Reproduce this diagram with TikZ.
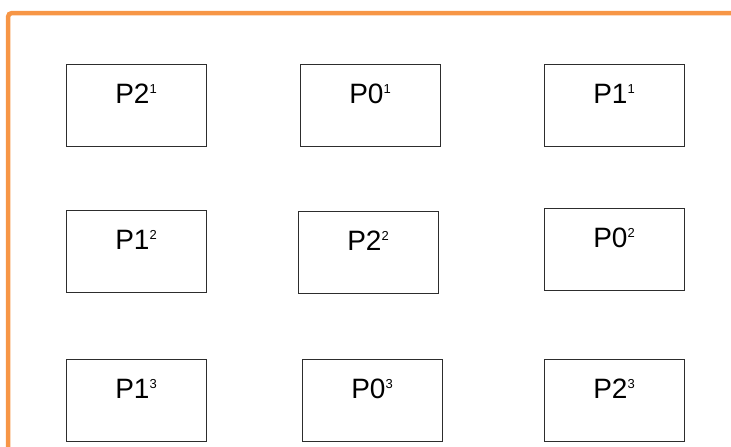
\documentclass[tikz,border=0pt]{standalone}
\usepackage{fontspec}
\setmainfont{Liberation Sans}
\usepackage{tikz}
\usetikzlibrary{positioning}
\definecolor{FrameOrange}{RGB}{247,150,70}
\definecolor{BoxGray}{RGB}{45,45,45}
\newcommand{\pp}[2]{P#1\raisebox{9.6pt}{\fontsize{13}{13}\selectfont #2}}
\tikzset{
  proc/.style={rectangle,draw=BoxGray,line width=1pt,minimum width=140pt,inner sep=0pt,
    text height=39pt,text depth=43pt,font=\fontsize{28}{34}\selectfont},
  frame/.style={draw=FrameOrange,line width=4.5pt,rounded corners=4pt},
}

\begin{document}
\begin{tikzpicture}[x=1pt,y=-1pt]
\useasboundingbox (0,0) rectangle (731,447);
\coordinate (fa) at (8,460);
\coordinate (fb) at (8,13);
\coordinate (fc) at (740,13);
\draw[frame] (fa)--(fb)--(fc);
% row 1
\node[proc] (p21) at (136,105) {\pp{2}{1}};
\node[proc] (p01) at (370,105) {\pp{0}{1}};
\node[proc] (p11) at (614,105) {\pp{1}{1}};
% row 2
\node[proc] (p12) at (136,251.5) {\pp{1}{2}};
\node[proc] (p22) at (368,252) {\pp{2}{2}};
\node[proc] (p02) at (614,249.5) {\pp{0}{2}};
% row 3
\node[proc] (p13) at (136,400) {\pp{1}{3}};
\node[proc] (p03) at (372,400) {\pp{0}{3}};
\node[proc] (p23) at (614,400) {\pp{2}{3}};
\end{tikzpicture}
\end{document}
